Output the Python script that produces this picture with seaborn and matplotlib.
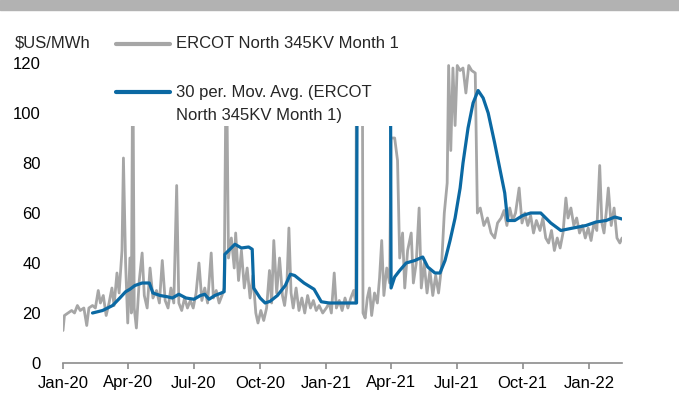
import pandas as pd
import matplotlib
matplotlib.use("Agg")
import matplotlib.pyplot as plt
import matplotlib.dates as mdates
from matplotlib.patches import Rectangle
from matplotlib.lines import Line2D
import seaborn as sns

# ─── Data ──────────────────────────────────────────────────
price_dates = [
    "2020-01-01", "2020-01-03", "2020-01-08", "2020-01-13", "2020-01-17", "2020-01-21",
    "2020-01-25", "2020-01-30", "2020-02-03", "2020-02-06", "2020-02-11", "2020-02-15",
    "2020-02-19", "2020-02-22", "2020-02-26", "2020-03-01", "2020-03-05", "2020-03-09",
    "2020-03-12", "2020-03-16", "2020-03-19", "2020-03-23", "2020-03-25", "2020-03-28",
    "2020-03-31", "2020-04-03", "2020-04-05", "2020-04-07", "2020-04-09", "2020-04-12",
    "2020-04-16", "2020-04-20", "2020-04-23", "2020-04-27", "2020-05-01", "2020-05-05",
    "2020-05-10", "2020-05-14", "2020-05-18", "2020-05-22", "2020-05-26", "2020-05-30",
    "2020-06-03", "2020-06-07", "2020-06-10", "2020-06-14", "2020-06-18", "2020-06-22",
    "2020-06-26", "2020-06-30", "2020-07-04", "2020-07-08", "2020-07-12", "2020-07-16",
    "2020-07-20", "2020-07-25", "2020-07-28", "2020-08-01", "2020-08-05", "2020-08-09",
    "2020-08-12", "2020-08-15", "2020-08-18", "2020-08-22", "2020-08-26", "2020-08-28",
    "2020-09-01", "2020-09-05", "2020-09-09", "2020-09-13", "2020-09-17", "2020-09-21",
    "2020-09-25", "2020-09-28", "2020-10-02", "2020-10-06", "2020-10-10", "2020-10-14",
    "2020-10-17", "2020-10-20", "2020-10-24", "2020-10-28", "2020-11-01", "2020-11-04",
    "2020-11-07", "2020-11-10", "2020-11-13", "2020-11-16", "2020-11-20", "2020-11-24",
    "2020-11-28", "2020-12-02", "2020-12-06", "2020-12-10", "2020-12-14", "2020-12-18",
    "2020-12-22", "2020-12-27", "2021-01-01", "2021-01-05", "2021-01-08", "2021-01-12",
    "2021-01-15", "2021-01-19", "2021-01-23", "2021-01-27", "2021-01-31", "2021-02-04",
    "2021-02-08", "2021-02-11", "2021-02-13", "2021-02-19", "2021-02-21", "2021-02-24",
    "2021-02-27", "2021-03-02", "2021-03-05", "2021-03-09", "2021-03-13", "2021-03-16",
    "2021-03-19", "2021-03-22", "2021-03-26", "2021-03-30", "2021-04-01", "2021-04-06",
    "2021-04-10", "2021-04-13", "2021-04-17", "2021-04-20", "2021-04-24", "2021-04-29",
    "2021-05-02", "2021-05-06", "2021-05-10", "2021-05-13", "2021-05-17", "2021-05-21",
    "2021-05-25", "2021-05-29", "2021-06-02", "2021-06-06", "2021-06-10", "2021-06-14",
    "2021-06-18", "2021-06-20", "2021-06-23", "2021-06-26", "2021-06-29", "2021-07-02",
    "2021-07-06", "2021-07-10", "2021-07-14", "2021-07-18", "2021-07-22", "2021-07-27",
    "2021-07-30", "2021-08-03", "2021-08-08", "2021-08-13", "2021-08-18", "2021-08-23",
    "2021-08-27", "2021-09-01", "2021-09-05", "2021-09-09", "2021-09-13", "2021-09-17",
    "2021-09-21", "2021-09-26", "2021-09-30", "2021-10-04", "2021-10-08", "2021-10-12",
    "2021-10-16", "2021-10-20", "2021-10-25", "2021-10-29", "2021-11-02", "2021-11-06",
    "2021-11-10", "2021-11-14", "2021-11-18", "2021-11-22", "2021-11-26", "2021-11-30",
    "2021-12-03", "2021-12-07", "2021-12-11", "2021-12-15", "2021-12-19", "2021-12-23",
    "2021-12-27", "2021-12-31", "2022-01-04", "2022-01-08", "2022-01-12", "2022-01-16",
    "2022-01-19", "2022-01-22", "2022-01-25", "2022-01-28", "2022-02-01", "2022-02-05",
    "2022-02-09", "2022-02-13", "2022-02-16",
]
price_values = [
    13, 19, 20, 21, 20, 23,
    21, 22, 15, 22, 23, 22,
    29, 24, 27, 19, 24, 30,
    23, 36, 28, 45, 82, 40,
    16, 42, 20, 130, 22, 14,
    33, 44, 27, 22, 38, 26,
    29, 24, 41, 25, 22, 30,
    24, 71, 24, 21, 26, 22,
    25, 22, 28, 40, 25, 30,
    24, 44, 26, 29, 24, 27,
    30, 130, 42, 50, 38, 52,
    33, 45, 30, 38, 26, 35,
    20, 16, 21, 17, 22, 37,
    24, 49, 28, 42, 27, 23,
    30, 54, 28, 22, 30, 21,
    26, 20, 27, 22, 25, 21,
    23, 20, 22, 24, 20, 36,
    22, 25, 21, 26, 22, 26,
    29, 24, 250, 250, 20, 18,
    26, 30, 19, 28, 24, 34,
    49, 27, 38, 32, 90, 90,
    81, 42, 52, 30, 45, 52,
    32, 40, 62, 30, 40, 28,
    37, 27, 35, 28, 38, 60,
    72, 119, 85, 118, 95, 119,
    117, 118, 108, 119, 117, 116,
    60, 62, 55, 58, 52, 50,
    56, 58, 61, 55, 62, 57,
    60, 70, 56, 60, 55, 59,
    52, 57, 53, 58, 50, 48,
    53, 45, 50, 46, 52, 66,
    58, 62, 55, 58, 52, 55,
    50, 54, 49, 56, 53, 79,
    56, 52, 60, 70, 55, 62,
    50, 48, 50,
]

ma_dates = [
    "2020-02-11", "2020-02-25", "2020-03-10", "2020-03-20", "2020-03-28", "2020-04-03",
    "2020-04-10", "2020-04-20", "2020-04-30", "2020-05-05", "2020-05-15", "2020-05-25",
    "2020-06-01", "2020-06-10", "2020-06-20", "2020-07-01", "2020-07-10", "2020-07-16",
    "2020-07-22", "2020-07-30", "2020-08-08", "2020-08-12", "2020-08-13", "2020-08-20",
    "2020-08-27", "2020-09-05", "2020-09-15", "2020-09-20", "2020-09-22", "2020-10-01",
    "2020-10-08", "2020-10-15", "2020-10-25", "2020-11-05", "2020-11-12", "2020-11-18",
    "2020-12-01", "2020-12-15", "2020-12-25", "2021-01-05", "2021-01-20", "2021-02-12",
    "2021-02-13", "2021-03-31", "2021-04-01", "2021-04-06", "2021-04-13", "2021-04-22",
    "2021-05-04", "2021-05-15", "2021-05-22", "2021-06-01", "2021-06-08", "2021-06-15",
    "2021-06-22", "2021-06-29", "2021-07-06", "2021-07-10", "2021-07-17", "2021-07-24",
    "2021-07-31", "2021-08-07", "2021-08-14", "2021-08-23", "2021-08-30", "2021-09-06",
    "2021-09-10", "2021-09-20", "2021-10-01", "2021-10-12", "2021-10-26", "2021-11-09",
    "2021-11-23", "2021-12-10", "2021-12-28", "2022-01-11", "2022-01-25", "2022-02-06",
    "2022-02-16",
]
ma_values = [
    20, 21, 23, 26, 28.5, 29.5,
    31, 32, 32, 28, 27, 26.5,
    26, 27.5, 26, 25.5, 27, 27.5,
    25.5, 27, 28, 28.5, 43.5, 45.5,
    47.5, 46, 46.4, 45.5, 30, 26,
    24, 24.7, 27, 31, 35.5, 35,
    32, 29.5, 24.5, 24, 24, 24,
    140, 140, 30, 34.4, 37, 40,
    41, 42.4, 38.4, 36, 36, 41,
    49, 58, 70, 80, 94, 104,
    109, 106, 100, 88, 78, 68,
    57, 57, 59, 60, 60, 56,
    53, 54, 55, 56.4, 57, 58.4,
    57.6,
]

series_labels = ["ERCOT North 345KV Month 1",
                 "30 per. Mov. Avg. (ERCOT\nNorth 345KV Month 1)"]

GRAY = "#a6a6a6"
BLUE = "#0b69a3"
W, H = 679, 400

price = pd.DataFrame({"data": pd.to_datetime(price_dates), "valor": price_values})
media = pd.DataFrame({"data": pd.to_datetime(ma_dates), "valor": ma_values})

# ─── Plot ─────────────────────────────────────────────────
sns.set_theme(style="white")
plt.rcParams["font.family"] = ["Liberation Sans", "DejaVu Sans"]

fig = plt.figure(figsize=(W / 100, H / 100), dpi=100)
ax = fig.add_axes([63 / W, 1 - 363 / H, (622 - 63) / W, 300 / H])

sns.lineplot(data=price, x="data", y="valor", ax=ax, color=GRAY, linewidth=2.0, legend=False)
sns.lineplot(data=media, x="data", y="valor", ax=ax, color=BLUE, linewidth=2.3, legend=False)

ax.set_ylim(0, 120)
ax.set_yticks(range(0, 121, 20))
ax.set_xlim(pd.Timestamp("2020-01-01"), pd.Timestamp("2022-02-16"))
ax.xaxis.set_major_locator(mdates.MonthLocator(bymonth=[1, 4, 7, 10]))
ax.xaxis.set_major_formatter(mdates.DateFormatter("%b-%y"))
ax.set_xlabel("")
ax.set_ylabel("")

for lado in ["left", "right", "top"]:
    ax.spines[lado].set_visible(False)
ax.spines["bottom"].set_color("#8c8c8c")
ax.spines["bottom"].set_linewidth(1.2)
ax.tick_params(axis="x", direction="out", length=4, width=1.2, color="#8c8c8c",
               labelsize=12, pad=5, labelcolor="black", bottom=True)
ax.tick_params(axis="y", length=0, labelsize=12, pad=16, labelcolor="black")

# ── legenda manual (caixa branca opaca por cima das linhas) ──
def fx(px):
    return px / W

def fy(py):
    return 1 - py / H

fig.add_artist(Rectangle((fx(108), fy(126)), fx(402) - fx(108), fy(28) - fy(126),
                         transform=fig.transFigure, facecolor="white",
                         edgecolor="none", zorder=1))
for cor, yy in [(GRAY, 44), (BLUE, 92)]:
    fig.add_artist(Line2D([fx(116), fx(170)], [fy(yy), fy(yy)], transform=fig.transFigure,
                          color=cor, linewidth=3, solid_capstyle="round", zorder=2))
fig.text(fx(176), fy(44), series_labels[0], fontsize=12, va="center", ha="left", zorder=3)
fig.text(fx(176), fy(92) + 0.018, series_labels[1], fontsize=12, va="top", ha="left",
         linespacing=1.65, zorder=3)

fig.text(fx(15), fy(43), "$US/MWh", fontsize=12, va="center", ha="left")
fig.add_artist(Rectangle((0, fy(10)), 1, 10 / H, transform=fig.transFigure,
                         color="#b2b2b2", zorder=0))

plt.savefig("out.png", dpi=100)
